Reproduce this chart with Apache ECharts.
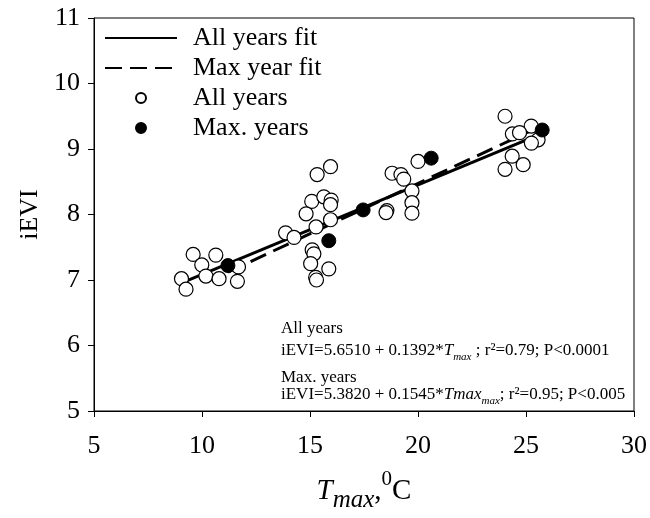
<!DOCTYPE html>
<html><head><meta charset="utf-8">
<script src="https://cdn.jsdelivr.net/npm/echarts@6/dist/echarts.min.js"></script>
<style>html,body{margin:0;padding:0;background:#fff}#c{width:650px;height:518px}</style>
</head><body><div id="c"></div>
<script>
// Tick values
const xTickValues = [5, 10, 15, 20, 25, 30];
const yTickValues = [5, 6, 7, 8, 9, 10, 11];

// All years (open circles)
const allYearsX = [9.05, 9.26, 9.59, 9.99, 10.18, 10.64, 10.79, 11.69, 11.64,
  15.95, 15.33, 15.08, 15.64, 15.98, 15.95, 14.82, 15.95, 15.28, 13.87, 14.26, 15.10, 15.18, 15.03, 15.87, 15.26, 15.30,
  20.00, 18.80, 19.21, 19.34, 19.72, 19.72, 19.72, 18.56, 18.52,
  24.03, 25.24, 24.37, 24.70, 25.56, 25.25, 24.36, 24.87, 24.03];
const allYearsY = [7.02, 6.86, 7.39, 7.23, 7.06, 7.38, 7.02, 7.20, 6.98,
  8.73, 8.61, 8.20, 8.27, 8.22, 8.15, 8.01, 7.92, 7.81, 7.72, 7.65, 7.46, 7.40, 7.25, 7.17, 7.04, 7.00,
  8.81, 8.63, 8.61, 8.54, 8.36, 8.18, 8.02, 8.06, 8.03,
  9.50, 9.35, 9.23, 9.25, 9.14, 9.09, 8.89, 8.76, 8.69];

// Max years (filled circles)
const maxYearsX = [11.20, 15.87, 17.46, 20.61, 25.75];
const maxYearsY = [7.22, 7.60, 8.07, 8.86, 9.29];

// Fit lines (end points)
const allFitX = [8.95, 25.75];
const allFitY = [6.94, 9.24];
const maxFitX = [11.20, 25.75];
const maxFitY = [7.12, 9.36];

const seriesNames = ['All years fit', 'Max year fit', 'All years', 'Max. years'];

const zip = (xs, ys) => xs.map((x, i) => [x, ys[i]]);
const FONT = '"Liberation Serif", "Times New Roman", serif';

const eqRich = {
  n: {fontFamily: FONT, fontSize: 17, fill: '#000', lineHeight: 24},
  i: {fontFamily: FONT, fontSize: 17, fontStyle: 'italic', fill: '#000', lineHeight: 24},
  s: {fontFamily: FONT, fontSize: 11, fontStyle: 'italic', fill: '#000', verticalAlign: 'bottom', lineHeight: 10}
};

const chart = echarts.init(document.getElementById('c'), null, {renderer: 'canvas'});
chart.setOption({
  animation: false,
  backgroundColor: '#fff',
  grid: {left: 94, right: 14, top: 18, bottom: 107, show: true, borderColor: '#000', borderWidth: 1, containLabel: false},
  xAxis: {
    type: 'value',
    min: xTickValues[0], max: xTickValues[xTickValues.length - 1],
    interval: xTickValues[1] - xTickValues[0],
    splitLine: {show: false},
    axisLine: {lineStyle: {color: '#000', width: 1}},
    axisTick: {inside: false, length: 6, lineStyle: {color: '#000'}},
    axisLabel: {fontFamily: FONT, fontSize: 26, color: '#000', margin: 22},
    name: '{i|T}{s|max}{n|,}{sup|0}{n|C}',
    nameLocation: 'middle',
    nameGap: 58,
    nameTextStyle: {
      rich: {
        i: {fontFamily: FONT, fontSize: 29, fontStyle: 'italic', color: '#000', lineHeight: 44},
        s: {fontFamily: FONT, fontSize: 25, fontStyle: 'italic', color: '#000', verticalAlign: 'bottom', lineHeight: 20},
        n: {fontFamily: FONT, fontSize: 29, color: '#000', lineHeight: 44},
        sup: {fontFamily: FONT, fontSize: 21, color: '#000', verticalAlign: 'top', lineHeight: 20}
      }
    }
  },
  yAxis: {
    type: 'value',
    min: yTickValues[0], max: yTickValues[yTickValues.length - 1],
    interval: yTickValues[1] - yTickValues[0],
    splitLine: {show: false},
    axisLine: {lineStyle: {color: '#000', width: 1}},
    axisTick: {inside: false, length: 6, lineStyle: {color: '#000'}},
    axisLabel: {fontFamily: FONT, fontSize: 26, color: '#000', margin: 14},
    name: 'iEVI',
    nameLocation: 'middle',
    nameGap: 51,
    nameTextStyle: {fontFamily: FONT, fontSize: 26, color: '#000'}
  },
  legend: {
    orient: 'vertical',
    left: 104, top: 25,
    padding: 0,
    itemWidth: 72, itemHeight: 10,
    itemGap: 4,
    data: seriesNames,
    textStyle: {fontFamily: FONT, fontSize: 26, color: '#000', lineHeight: 26, padding: [0, 0, 0, 11]}
  },
  series: [
    {name: seriesNames[0], type: 'line', data: zip(allFitX, allFitY), symbol: 'none',
      lineStyle: {color: '#000', width: 3, type: 'solid'}, itemStyle: {color: '#000', opacity: 0}, z: 2},
    {name: seriesNames[1], type: 'line', data: zip(maxFitX, maxFitY), symbol: 'none',
      lineStyle: {color: '#000', width: 3, type: [17, 8]}, itemStyle: {color: '#000', opacity: 0}, z: 2},
    {name: seriesNames[2], type: 'scatter', data: zip(allYearsX, allYearsY), symbol: 'circle', symbolSize: 14,
      itemStyle: {color: '#fff', borderColor: '#000', borderWidth: 1.2, opacity: 1}, z: 3},
    {name: seriesNames[3], type: 'scatter', data: zip(maxYearsX, maxYearsY), symbol: 'circle', symbolSize: 14,
      itemStyle: {color: '#000', borderColor: '#000', borderWidth: 1, opacity: 1}, z: 4}
  ],
  graphic: [
    {type: 'text', left: 281, top: 320, z: 10,
      style: {text: 'All years', font: '17px ' + FONT, fill: '#000'}},
    {type: 'text', left: 281, top: 342, z: 10,
      style: {text: '{n|iEVI=5.6510 + 0.1392*}{i|T}{s|max}{n| ; r²=0.79; P<0.0001}', rich: eqRich}},
    {type: 'text', left: 281, top: 369, z: 10,
      style: {text: 'Max. years', font: '17px ' + FONT, fill: '#000'}},
    {type: 'text', left: 281, top: 386, z: 10,
      style: {text: '{n|iEVI=5.3820 + 0.1545*}{i|Tmax}{s|max}{n|; r²=0.95; P<0.005}', rich: eqRich}}
  ]
});
</script>
</body></html>
